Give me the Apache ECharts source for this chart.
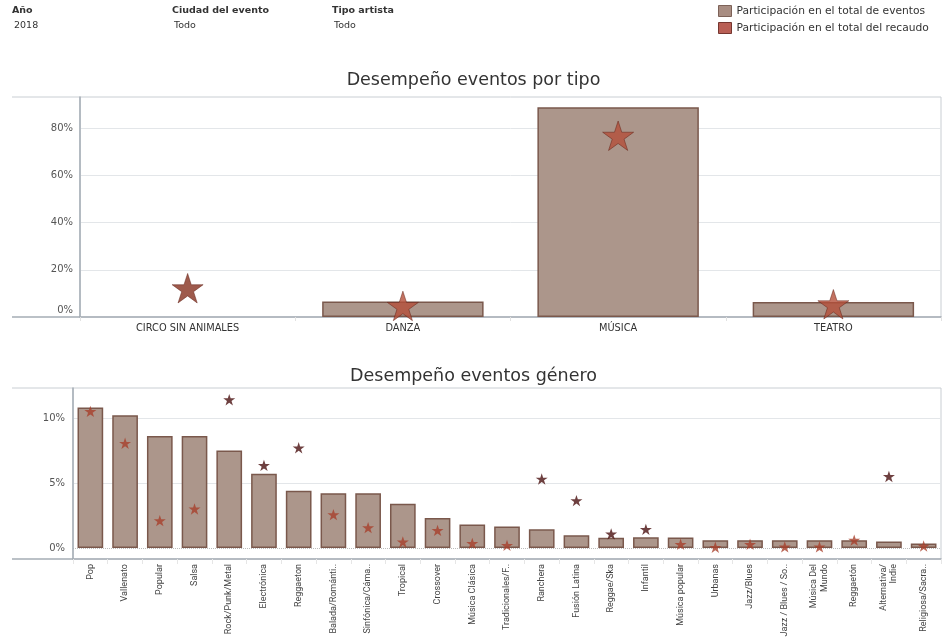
<!DOCTYPE html>
<html><head><meta charset="utf-8">
<script src="https://cdn.jsdelivr.net/npm/echarts@6/dist/echarts.min.js"></script>
<style>html,body{margin:0;padding:0;background:#fff}#c{width:947px;height:638px}</style>
</head><body><div id="c"></div>
<script>
// ---- data ----
const tipoCategories = ['CIRCO SIN ANIMALES', 'DANZA', 'MÚSICA', 'TEATRO'];
const tipoEventos = [0, 6.6, 88.9, 6.4];
const tipoRecaudo = [12.2, 4.7, 76.8, 5.4];
const tipoTicks = [0, 20, 40, 60, 80];

const generoCategories = ['Pop', 'Vallenato', 'Popular', 'Salsa', 'Rock/Punk/Metal', 'Electrónica', 'Reggaeton',
  'Balada/Románti..', 'Sinfónica/Cáma..', 'Tropical', 'Crossover', 'Música Clásica', 'Tradicionales/F..',
  'Ranchera', 'Fusión Latina', 'Reggae/Ska', 'Infantil', 'Música popular', 'Urbanas', 'Jazz/Blues',
  'Jazz / Blues / So..', 'Música Del\nMundo', 'Reggaetón', 'Alternativa/\nIndie', 'Religiosa/Sacra..'];
const generoEventos = [10.8, 10.2, 8.6, 8.6, 7.5, 5.7, 4.4, 4.2, 4.2, 3.4, 2.3, 1.8, 1.64, 1.43, 0.97, 0.79,
  0.82, 0.8, 0.6, 0.6, 0.6, 0.6, 0.6, 0.5, 0.35];
const generoRecaudo = [10.5, 8.05, 2.1, 3.0, 11.4, 6.35, 7.7, 2.56, 1.56, 0.46, 1.35, 0.35, 0.2, 5.3, 3.64, 1.08,
  1.43, 0.28, 0.05, 0.28, 0.08, 0.08, 0.6, 5.5, 0.15];
const generoTicks = [0, 5, 10];

const headerLabels = ['Año', 'Ciudad del evento', 'Tipo artista'];
const headerValues = ['2018', 'Todo', 'Todo'];
const serieEventos = 'Participación en el total de eventos';
const serieRecaudo = 'Participación en el total del recaudo';

// ---- styles ----
const FONT = '"DejaVu Sans", "Open Sans", sans-serif';
const NARROW = 'Roboto, "Liberation Sans", sans-serif';
const BAR_FILL = '#ac968b';
const BAR_BORDER = '#7a584c';
const STAR = 'path://M50,2 L61.2,36.5 L97.6,36.5 L68.2,57.9 L79.4,92.5 L50,71.1 L20.6,92.5 L31.8,57.9 L2.4,36.5 L38.8,36.5 Z';
const AXIS_C = '#a5adb5';
const GRID_C = '#e3e6e9';

const chart = echarts.init(document.getElementById('c'));

const grids = [
  {left: 80, right: 6, top: 97, bottom: 321, show: true, borderColor: '#c9ced3', borderWidth: 1,
    outerBoundsMode: 'none', containLabel: false},
  {left: 73, right: 6, top: 388, bottom: 79, show: true, borderColor: '#c9ced3', borderWidth: 1,
    outerBoundsMode: 'none', containLabel: false}
];

function gridMarkLine(ticks, dottedZero) {
  return {
    silent: true, symbol: 'none', label: {show: false}, animation: false, z: 0,
    data: ticks.filter(t => dottedZero || t !== 0).map(t => ({
      yAxis: t,
      lineStyle: t === 0 ? {color: '#bcbcbc', type: 'dotted', width: 1} : {color: GRID_C, type: 'solid', width: 1}
    }))
  };
}

function barData(values) {
  return values.map(v => v === 0 ? {value: v, itemStyle: {borderWidth: 0, opacity: 0}} : v);
}

const option = {
  backgroundColor: '#fff',
  animation: false,
  textStyle: {fontFamily: FONT},
  title: [
    {text: 'Desempeño eventos por tipo', left: 'center', top: 66,
      textStyle: {fontSize: 17.5, fontWeight: 'normal', color: '#333', fontFamily: FONT}},
    {text: 'Desempeño eventos género', left: 'center', top: 362,
      textStyle: {fontSize: 17.5, fontWeight: 'normal', color: '#333', fontFamily: FONT}}
  ],
  legend: {
    orient: 'vertical', left: 718, top: 5, padding: 0, itemWidth: 13, itemHeight: 11, itemGap: 5,
    selectedMode: false,
    textStyle: {fontSize: 10.7, color: '#333', fontFamily: FONT},
    data: [
      {name: serieEventos, icon: 'rect', itemStyle: {color: '#a88d82', borderColor: '#7d6258', borderWidth: 1}},
      {name: serieRecaudo, icon: 'rect', itemStyle: {color: '#a8372b', borderColor: '#5d1812', borderWidth: 1}}
    ]
  },
  grid: grids,
  xAxis: [
    {type: 'category', gridIndex: 0, data: tipoCategories,
      axisLine: {onZero: false, lineStyle: {color: AXIS_C, width: 1.5}},
      axisTick: {show: true, length: 4, lineStyle: {color: '#e2e2e2'}},
      axisLabel: {fontSize: 9.8, color: '#333', margin: 6, fontFamily: FONT}},
    {type: 'category', gridIndex: 1, data: generoCategories,
      axisLine: {onZero: false, lineStyle: {color: AXIS_C, width: 1.5}},
      axisTick: {show: true, length: 5, lineStyle: {color: '#e6e6e6'}},
      axisLabel: {fontSize: 9, color: '#444', margin: 5, rotate: 90, interval: 0, lineHeight: 10.5,
        fontFamily: NARROW}}
  ],
  yAxis: [
    {type: 'value', gridIndex: 0, min: 0, max: 93.2,
      axisLine: {show: true, lineStyle: {color: AXIS_C, width: 1.5}},
      axisTick: {show: false}, splitLine: {show: false},
      axisLabel: {customValues: tipoTicks, fontSize: 10, color: '#555', margin: 7, fontFamily: FONT,
        formatter: v => v === 0 ? '{z|0%}' : v + '%',
        rich: {z: {padding: [0, 0, 14, 0], fontSize: 10, color: '#555', fontFamily: FONT}}}},
    {type: 'value', gridIndex: 1, min: -0.85, max: 12.3,
      axisLine: {show: true, lineStyle: {color: AXIS_C, width: 1.5}},
      axisTick: {show: false}, splitLine: {show: false},
      axisLabel: {customValues: generoTicks, fontSize: 10, color: '#555', margin: 8, fontFamily: FONT,
        formatter: v => v + '%'}}
  ],
  graphic: [
    // header filters
    ...headerLabels.map((t, i) => ({type: 'text', left: [12, 172, 332][i], top: 6,
      style: {text: t, fontSize: 9.5, fontWeight: 'bold', fill: '#333', fontFamily: FONT}})),
    ...headerValues.map((t, i) => ({type: 'text', left: [14, 174, 334][i], top: 21,
      style: {text: t, fontSize: 9.5, fill: '#333', fontFamily: FONT}})),
    // frame extensions to the left of the axes
    {type: 'line', shape: {x1: 12, y1: 97, x2: 80, y2: 97}, style: {stroke: '#c9ced3', lineWidth: 1}},
    {type: 'line', shape: {x1: 12, y1: 317, x2: 80, y2: 317}, style: {stroke: AXIS_C, lineWidth: 1.5}},
    {type: 'line', shape: {x1: 12, y1: 388, x2: 73, y2: 388}, style: {stroke: '#c9ced3', lineWidth: 1}},
    {type: 'line', shape: {x1: 12, y1: 559, x2: 73, y2: 559}, style: {stroke: AXIS_C, lineWidth: 1.5}}
  ],
  series: [
    {name: serieEventos, type: 'bar', xAxisIndex: 0, yAxisIndex: 0, data: barData(tipoEventos), barWidth: '75%',
      itemStyle: {color: BAR_FILL, borderColor: BAR_BORDER, borderWidth: 1.5},
      markLine: gridMarkLine(tipoTicks, false), z: 2},
    {name: serieRecaudo, type: 'scatter', xAxisIndex: 0, yAxisIndex: 0, data: tipoRecaudo,
      symbol: STAR, symbolSize: 31, symbolKeepAspect: true, z: 5,
      itemStyle: {color: p => tipoRecaudo[p.dataIndex] > tipoEventos[p.dataIndex] ? '#86311f' : '#b44f39',
        borderColor: '#5e1d14', borderWidth: 0.6}},
    {name: serieEventos, type: 'bar', xAxisIndex: 1, yAxisIndex: 1, data: barData(generoEventos), barWidth: '74%',
      itemStyle: {color: BAR_FILL, borderColor: BAR_BORDER, borderWidth: 1.5},
      markLine: gridMarkLine(generoTicks, true), z: 2},
    {name: serieRecaudo, type: 'scatter', xAxisIndex: 1, yAxisIndex: 1, data: generoRecaudo,
      symbol: STAR, symbolSize: 12, symbolKeepAspect: true, z: 5,
      itemStyle: {color: p => generoRecaudo[p.dataIndex] > generoEventos[p.dataIndex] ? '#4a1010' : '#a8402c'}}
  ]
};
chart.setOption(option);
</script>
</body></html>
